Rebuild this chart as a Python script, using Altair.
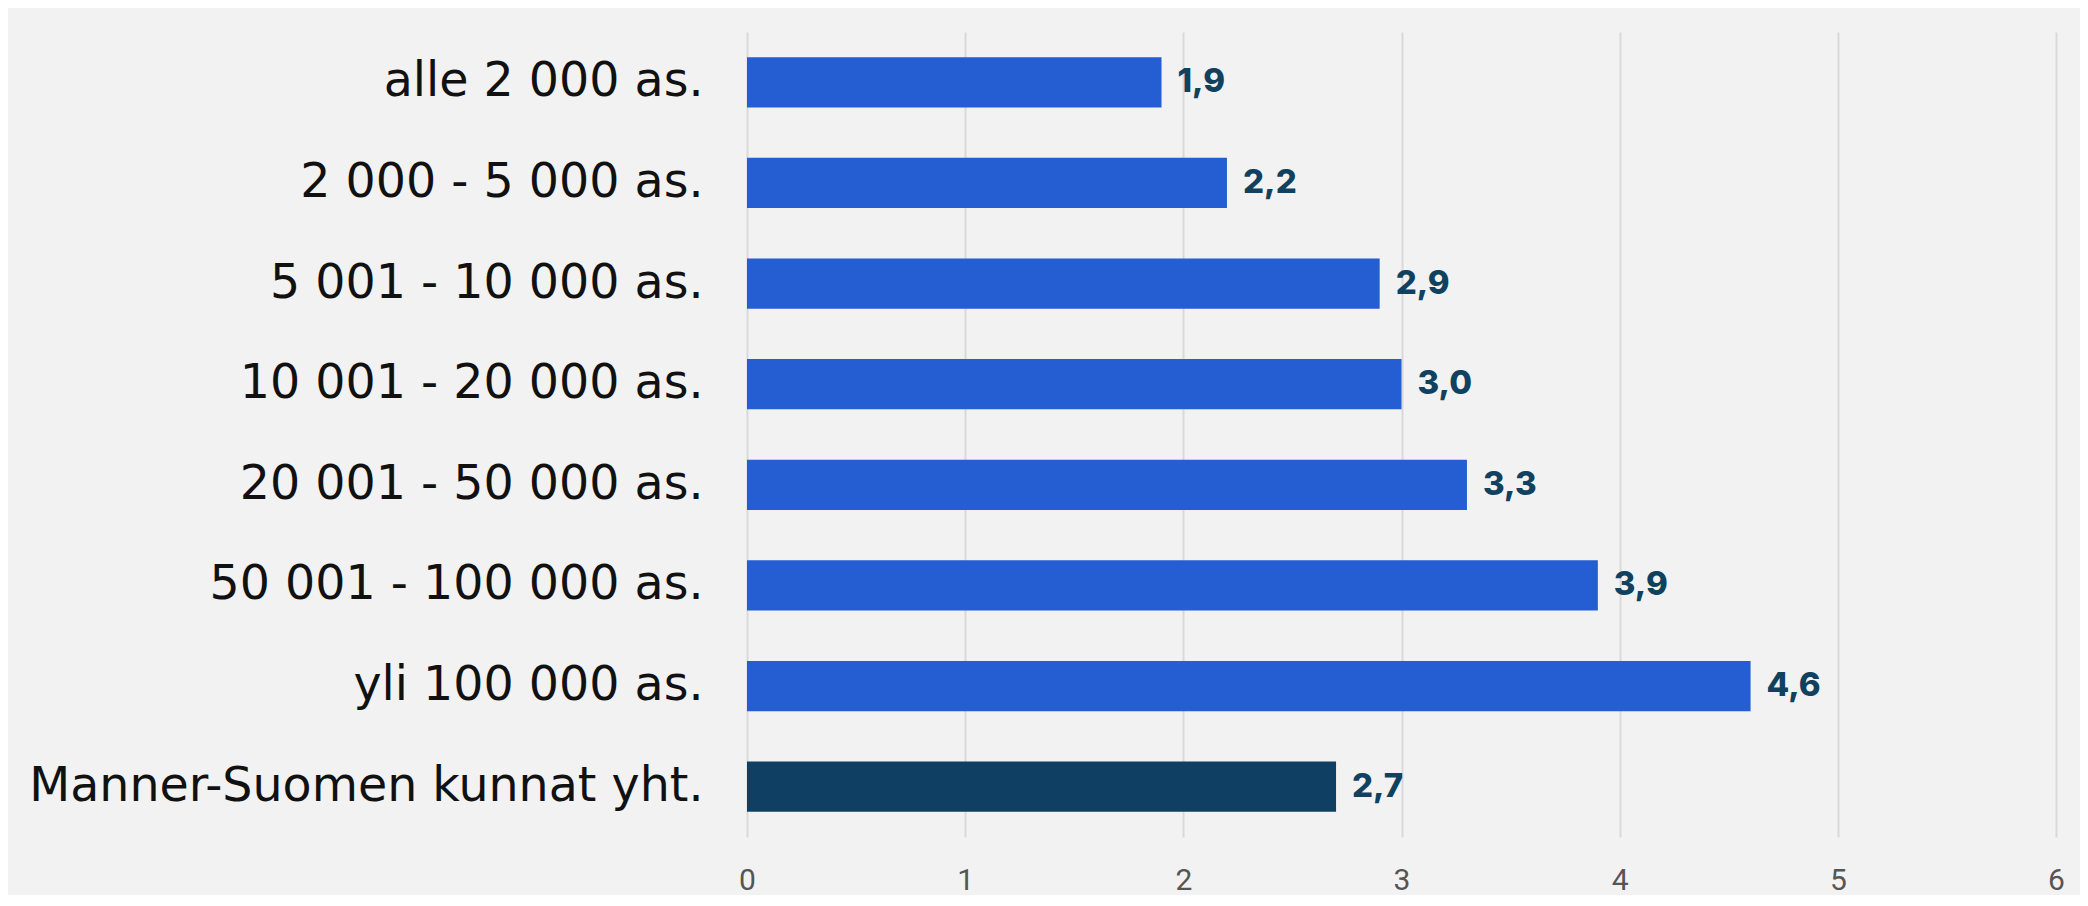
import altair as alt
import pandas as pd

categories = [
    "alle 2 000 as.",
    "2 000 - 5 000 as.",
    "5 001 - 10 000 as.",
    "10 001 - 20 000 as.",
    "20 001 - 50 000 as.",
    "50 001 - 100 000 as.",
    "yli 100 000 as.",
    "Manner-Suomen kunnat yht.",
]
values = [1.9, 2.2, 2.9, 3.0, 3.3, 3.9, 4.6, 2.7]
groups = ["koko", "koko", "koko", "koko", "koko", "koko", "koko", "yht"]

df = pd.DataFrame({"cat": categories, "value": values, "group": groups})

y = alt.Y(
    "cat:N",
    sort=categories,
    title=None,
    scale=alt.Scale(paddingInner=0.5, paddingOuter=0.25),
    axis=alt.Axis(
        labelFont="DejaVu Sans",
        labelFontSize=47.5,
        labelColor="#111111",
        labelPadding=44,
        ticks=False,
        domain=False,
        grid=False,
        labelLimit=1000,
    ),
)

x = alt.X(
    "value:Q",
    title=None,
    scale=alt.Scale(domain=[0, 6], nice=False),
    axis=alt.Axis(
        values=[0, 1, 2, 3, 4, 5, 6],
        format="d",
        labelFont="Roboto",
        labelFontSize=30,
        labelColor="#555555",
        labelPadding=28,
        labelFlush=False,
        ticks=False,
        tickSize=0,
        domain=False,
        grid=True,
        gridColor="#d9d9d9",
        gridWidth=2,
    ),
)

bars = alt.Chart(df).mark_bar().encode(
    x=x,
    y=y,
    color=alt.Color(
        "group:N",
        scale=alt.Scale(domain=["koko", "yht"], range=["#255DD2", "#0F4063"]),
        legend=None,
    ),
)

labels = alt.Chart(df).transform_calculate(
    lbl="replace(format(datum.value, '.1f'), '.', ',')"
).mark_text(
    align="left",
    baseline="middle",
    dx=16,
    font="Inter",
    fontWeight=800,
    fontSize=33,
    color="#10415F",
).encode(
    x=alt.X("value:Q"),
    y=alt.Y("cat:N", sort=categories),
    text="lbl:N",
)

chart = (
    alt.layer(bars, labels)
    .properties(
        width=1309,
        height=805,
        background="#f2f2f2",
        padding={"left": 739, "top": 24, "right": 24, "bottom": 58},
        autosize=alt.AutoSizeParams(type="none"),
    )
    .configure_view(stroke=None)
)

chart.save("out.html", embed_options={"renderer": "svg", "actions": False})
